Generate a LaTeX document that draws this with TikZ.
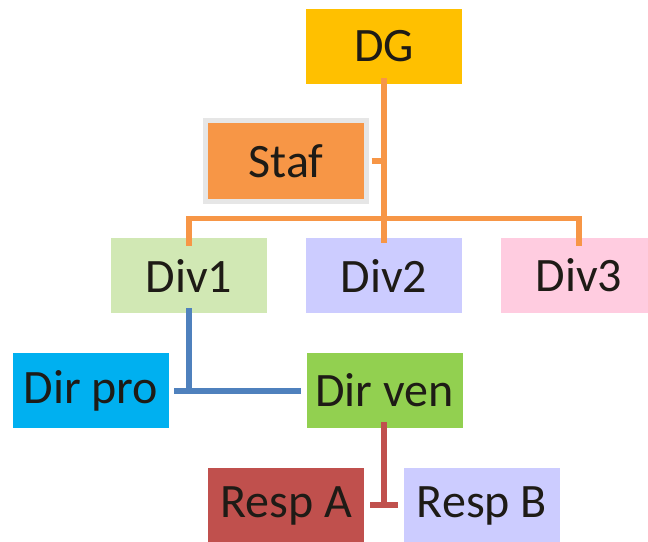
\documentclass[tikz,border=0pt]{standalone}
\usepackage{fontspec}
\setmainfont{Carlito}
\definecolor{dgcol}{HTML}{FFC000}
\definecolor{stafcol}{HTML}{F79646}
\definecolor{stafrim}{HTML}{E6E6E6}
\definecolor{divonecol}{HTML}{D1E8B4}
\definecolor{lavcol}{HTML}{CCCCFF}
\definecolor{pinkcol}{HTML}{FFCCE0}
\definecolor{procol}{HTML}{00B0F0}
\definecolor{vencol}{HTML}{92D050}
\definecolor{respacol}{HTML}{C0504D}
\definecolor{linkblue}{HTML}{4F81BD}
\definecolor{txtcol}{HTML}{1E1B16}
\tikzset{
  box/.style={rectangle, minimum width=156pt, minimum height=75pt, inner sep=0pt,
    text=txtcol, font=\fontsize{48}{52}\selectfont},
  orgline/.style={line width=5.5pt, stafcol},
  blueline/.style={line width=5.5pt, linkblue},
  redline/.style={line width=5.5pt, respacol}
}
\begin{document}
\begin{tikzpicture}[x=1pt, y=-1pt]
  \useasboundingbox (0,0) rectangle (648,541);
  \clip (0,0) rectangle (648,541);

  % boxes
  \node[box, fill=dgcol] (dg) at (384,46.5) {DG};
  \node[box, fill=stafcol, draw=stafrim, line width=5pt,
        minimum width=161pt, minimum height=81pt] (staf) at (286,161) {Staf};
  \node[box, fill=divonecol] (div1) at (189,275.5) {Div1};
  \node[box, fill=lavcol] (div2) at (384,275.5) {Div2};
  \node[box, fill=pinkcol] (div3) at (579,275.5) {Div3};
  \node[box, fill=procol] (dirpro) at (91,390.5) {Dir pro};
  \node[box, fill=vencol] (dirven) at (384.5,390.5) {Dir ven};
  \node[box, fill=respacol] (respa) at (286,505.5) {Resp A};
  \node[box, fill=lavcol] (respb) at (482,505.5) {Resp B};

  % top level: DG to the divisions, with staff stub
  \coordinate (bus) at (384,218.5);
  \draw[orgline] ([yshift=6pt]dg.south) -- ([yshift=-5pt]div2.north);
  \draw[orgline] ([xshift=2.5pt]staf.east) -- (staf.east -| dg.south);
  \draw[orgline, line cap=rect] ([yshift=-5pt]div1.north) |- (bus) -| ([yshift=-5pt]div3.north);

  % Div1 to its directors
  \coordinate (bluejoin) at (189,391);
  \draw[blueline] ([yshift=5pt]div1.south) -- (bluejoin);
  \draw[blueline] ([xshift=5pt]dirpro.east |- bluejoin) -- ([xshift=-5pt]dirven.west |- bluejoin);

  % Dir ven to its managers
  \coordinate (redjoin) at (384,505);
  \draw[redline] ([yshift=6pt]dirven.south -| redjoin) -- (redjoin);
  \draw[redline] ([xshift=6pt]respa.east |- redjoin) -- ([xshift=-6pt]respb.west |- redjoin);
\end{tikzpicture}
\end{document}
